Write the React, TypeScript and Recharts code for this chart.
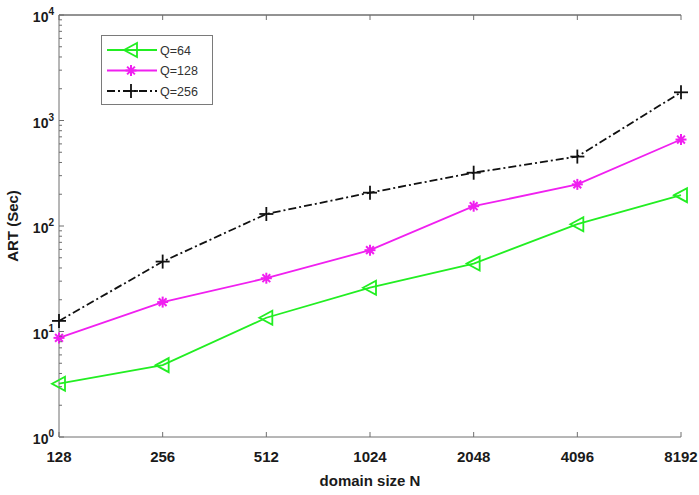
import React from 'react';
import { LineChart, Line, XAxis, YAxis, ReferenceLine } from 'recharts';

const categories = ['128', '256', '512', '1024', '2048', '4096', '8192'];
const q64 = [3.2, 4.8, 13.5, 26, 44, 104, 196];
const q128 = [8.7, 19, 32, 59, 154, 248, 660];
const q256 = [12.6, 46, 130, 207, 320, 455, 1850];
const seriesNames = ['Q=64', 'Q=128', 'Q=256'];
const yTicks = [
  1, 2, 3, 4, 5, 6, 7, 8, 9,
  10, 20, 30, 40, 50, 60, 70, 80, 90,
  100, 200, 300, 400, 500, 600, 700, 800, 900,
  1000, 2000, 3000, 4000, 5000, 6000, 7000, 8000, 9000,
  10000,
];

const data = categories.map((n, i) => ({ n, q64: q64[i], q128: q128[i], q256: q256[i] }));

const AXIS = '#6f6f6f';
const FONT = '"Liberation Sans", Arial, sans-serif';
const GREEN = '#22ee22';
const MAGENTA = '#f020f0';
const BLACK = '#111111';
const DASH = '8 3 2 3';

const isMajor = (v: number) => {
  const l = Math.log10(v);
  return Math.abs(l - Math.round(l)) < 1e-9;
};

const LeftYTick = (props: any) => {
  const { x, y, payload } = props;
  const v = payload.value;
  const major = isMajor(v);
  return (
    <g>
      <line x1={x} x2={x + (major ? 5 : 3)} y1={y} y2={y} stroke={AXIS} strokeWidth={1} />
      {major && (
        <text x={x - 5} y={y + 7} textAnchor="end" fontFamily={FONT} fontWeight="bold" fontSize={14} fill="#1a1a1a">
          <tspan>10</tspan>
          <tspan dy={-7} fontSize={10}>{Math.round(Math.log10(v))}</tspan>
        </text>
      )}
    </g>
  );
};

const RightYTick = (props: any) => {
  const { x, y, payload } = props;
  const major = isMajor(payload.value);
  return <line x1={x} x2={x - (major ? 5 : 3)} y1={y} y2={y} stroke={AXIS} strokeWidth={1} />;
};

const BottomXTick = (props: any) => {
  const { x, y, payload } = props;
  return (
    <g>
      <line x1={x} x2={x} y1={y} y2={y - 5} stroke={AXIS} strokeWidth={1} />
      <text x={x} y={y + 25} textAnchor="middle" fontFamily={FONT} fontWeight="bold" fontSize={15} fill="#1a1a1a">
        {payload.value}
      </text>
    </g>
  );
};

const TopXTick = (props: any) => {
  const { x, y } = props;
  return <line x1={x} x2={x} y1={y} y2={y + 5} stroke={AXIS} strokeWidth={1} />;
};

const TriMarker = ({ cx, cy }: { cx: number; cy: number }) => (
  <polygon
    points={`${cx - 7},${cy} ${cx + 6},${cy - 7} ${cx + 6},${cy + 7}`}
    fill="none"
    stroke={GREEN}
    strokeWidth={1.8}
  />
);

const StarMarker = ({ cx, cy }: { cx: number; cy: number }) => {
  const r = 5.5;
  const d = r * 0.7071;
  return (
    <g stroke={MAGENTA} strokeWidth={2}>
      <line x1={cx - r} x2={cx + r} y1={cy} y2={cy} />
      <line x1={cx} x2={cx} y1={cy - r} y2={cy + r} />
      <line x1={cx - d} x2={cx + d} y1={cy - d} y2={cy + d} />
      <line x1={cx - d} x2={cx + d} y1={cy + d} y2={cy - d} />
      <circle cx={cx} cy={cy} r={2.5} fill={MAGENTA} stroke="none" />
    </g>
  );
};

const PlusMarker = ({ cx, cy }: { cx: number; cy: number }) => (
  <g stroke={BLACK} strokeWidth={1.8}>
    <line x1={cx - 7} x2={cx + 7} y1={cy} y2={cy} />
    <line x1={cx} x2={cx} y1={cy - 7} y2={cy + 7} />
  </g>
);

const dotFn = (Comp: any) => (p: any) => {
  if (p.cx == null || p.cy == null) return <g key={`e${p.index}`} />;
  return <Comp key={`d${p.index}`} cx={p.cx} cy={p.cy} />;
};

const YLabel = (props: any) => {
  const vb = props.viewBox || { x: 0, y: 15, width: 59, height: 422 };
  const cx = vb.x + 12;
  const cy = vb.y + vb.height / 2;
  return (
    <text
      x={cx}
      y={cy}
      transform={`rotate(-90 ${cx} ${cy})`}
      textAnchor="middle"
      dominantBaseline="central"
      fontFamily={FONT}
      fontWeight="bold"
      fontSize={15}
      fill="#1a1a1a"
    >
      ART (Sec)
    </text>
  );
};

const LegendBox = () => {
  const rows = [
    { name: seriesNames[0], color: GREEN, dash: undefined, M: TriMarker },
    { name: seriesNames[1], color: MAGENTA, dash: undefined, M: StarMarker },
    { name: seriesNames[2], color: BLACK, dash: DASH, M: PlusMarker },
  ];
  return (
    <div
      style={{
        position: 'absolute',
        left: 101,
        top: 35,
        width: 112,
        height: 70,
        boxSizing: 'border-box',
        border: '1px solid #7a7a7a',
        background: '#fff',
      }}
    >
      <svg width={110} height={68} style={{ display: 'block' }}>
        {rows.map((r, i) => {
          const yy = 14 + i * 20.5;
          return (
            <g key={r.name}>
              <line x1={5} x2={55} y1={yy} y2={yy} stroke={r.color} strokeWidth={1.8} strokeDasharray={r.dash} />
              <r.M cx={29} cy={yy} />
              <text x={58} y={yy + 4.5} fontFamily={FONT} fontSize={12.5} fill="#333">
                {r.name}
              </text>
            </g>
          );
        })}
      </svg>
    </div>
  );
};

export default function App() {
  return (
    <div style={{ position: 'absolute', left: 0, top: 0, width: 699, height: 495, background: '#fff' }}>
      <LineChart width={699} height={495} data={data} margin={{ top: 14, right: 18, bottom: 0, left: 0 }}>
        <XAxis
          dataKey="n"
          height={58}
          tickSize={0}
          tickMargin={0}
          interval={0}
          stroke={AXIS}
          tickLine={false}
          tick={<BottomXTick />}
          label={{
            value: 'domain size N',
            position: 'insideBottom',
            offset: 9,
            style: { fontFamily: FONT, fontWeight: 'bold', fontSize: 15, fill: '#1a1a1a' },
          }}
        />
        <XAxis
          xAxisId="top"
          dataKey="n"
          orientation="top"
          height={1}
          tickSize={0}
          tickMargin={0}
          interval={0}
          stroke={AXIS}
          tickLine={false}
          tick={<TopXTick />}
        />
        <YAxis
          scale="log"
          domain={[1, 10000]}
          ticks={yTicks}
          interval={0}
          allowDataOverflow
          width={59}
          tickSize={0}
          tickMargin={0}
          stroke={AXIS}
          tickLine={false}
          tick={<LeftYTick />}
          label={<YLabel />}
        />
        <YAxis
          yAxisId="right"
          orientation="right"
          scale="log"
          domain={[1, 10000]}
          ticks={yTicks}
          interval={0}
          allowDataOverflow
          width={0}
          tickSize={0}
          tickMargin={0}
          stroke={AXIS}
          tickLine={false}
          tick={<RightYTick />}
        />
        <ReferenceLine y={10000} stroke={AXIS} strokeWidth={1} ifOverflow="visible" />
        <Line
          dataKey="q64"
          name={seriesNames[0]}
          stroke={GREEN}
          strokeWidth={1.8}
          dot={dotFn(TriMarker)}
          activeDot={false}
          isAnimationActive={false}
        />
        <Line
          dataKey="q128"
          name={seriesNames[1]}
          stroke={MAGENTA}
          strokeWidth={1.8}
          dot={dotFn(StarMarker)}
          activeDot={false}
          isAnimationActive={false}
        />
        <Line
          dataKey="q256"
          name={seriesNames[2]}
          stroke={BLACK}
          strokeWidth={1.8}
          strokeDasharray={DASH}
          dot={dotFn(PlusMarker)}
          activeDot={false}
          isAnimationActive={false}
        />
      </LineChart>
      <LegendBox />
    </div>
  );
}
